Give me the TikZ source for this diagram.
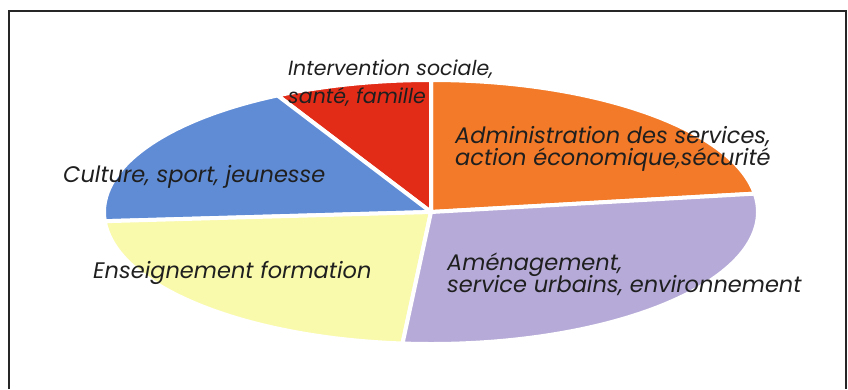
\documentclass[tikz,border=0pt]{standalone}
\usepackage{fontspec}
\setsansfont{Poppins}
\usetikzlibrary{positioning}

\definecolor{adminorange}{RGB}{242,122,40}
\definecolor{socialred}{RGB}{226,44,24}
\definecolor{culturblue}{RGB}{96,140,214}
\definecolor{ensyellow}{RGB}{250,250,172}
\definecolor{amenpurple}{RGB}{182,171,216}

\tikzset{
  slice/.style={draw=white, line width=4pt, line join=round},
  lbl/.style={font=\sffamily\itshape\fontsize{22.5}{26}\selectfont, inner sep=0pt, anchor=base west, text=black!88},
  lblsmall/.style={lbl, font=\sffamily\itshape\fontsize{20.5}{24}\selectfont},
}

\begin{document}
\begin{tikzpicture}[x=1pt, y=-1pt]
  \useasboundingbox (0,0) rectangle (848,389);
  \draw[line width=1.6pt, black!85] (9,389) -- (9,11) -- (846,11) -- (846,389);

  \coordinate (c) at (431,212);
  % angles are negative: y runs down the page
  \filldraw[slice, fill=adminorange] (c) -- ++(-8:327 and 132)
    arc[start angle=-8, end angle=-90, x radius=327, y radius=132] -- cycle;
  \filldraw[slice, fill=socialred] (c) -- ++(-90:327 and 132)
    arc[start angle=-90, end angle=-118, x radius=327, y radius=132] -- cycle;
  \filldraw[slice, fill=culturblue] (c) -- ++(-118:327 and 132)
    arc[start angle=-118, end angle=-184, x radius=327, y radius=132] -- cycle;
  \filldraw[slice, fill=ensyellow] (c) -- ++(-184:327 and 132)
    arc[start angle=-184, end angle=-265, x radius=327, y radius=132] -- cycle;
  \filldraw[slice, fill=amenpurple] (c) -- ++(-265:327 and 132)
    arc[start angle=-265, end angle=-368, x radius=327, y radius=132] -- cycle;

  % labels
  \node[lblsmall] (social) at (288,75) {Intervention sociale,};
  \node[lblsmall] (social2) at ([yshift=-28]social.base west) {santé, famille};
  \node[lbl] (admin) at (455,143) {Administration des services,};
  \node[lbl] (admin2) at ([yshift=-22]admin.base west) {action économique,sécurité};
  \node[lbl] (cultur) at (63,182) {Culture, sport, jeunesse};
  \node[lbl] (ens) at (93,278) {Enseignement formation};
  \node[lbl] (amen) at (447,270) {Aménagement,};
  \node[lbl] (amen2) at ([yshift=-22]amen.base west) {service urbains, environnement};
\end{tikzpicture}
\end{document}
